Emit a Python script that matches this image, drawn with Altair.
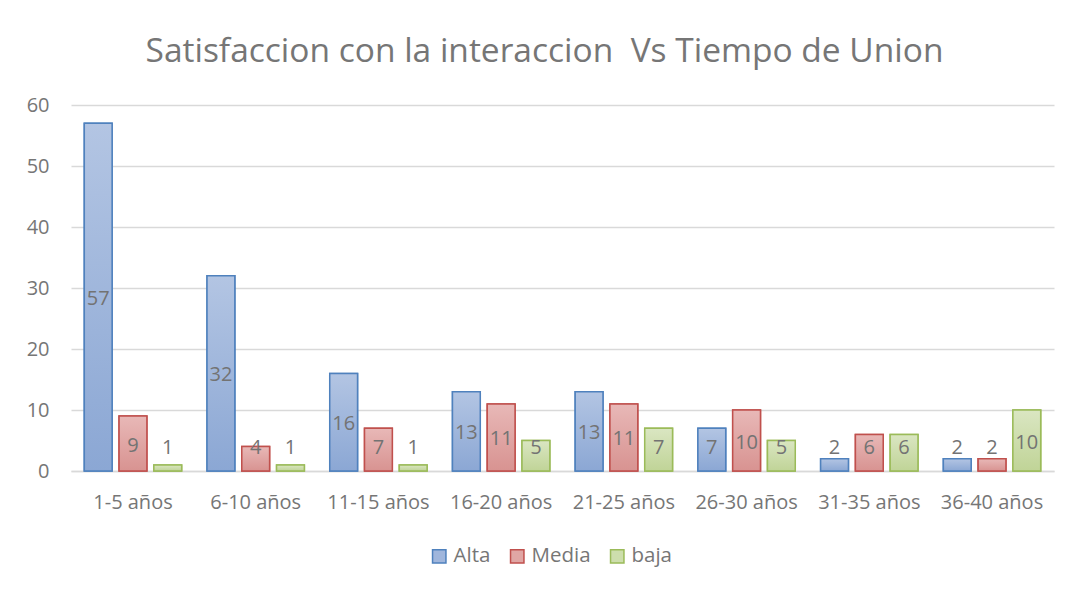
import altair as alt
import pandas as pd

categories = ["1-5 años", "6-10 años", "11-15 años", "16-20 años",
              "21-25 años", "26-30 años", "31-35 años", "36-40 años"]
series = ["Alta", "Media", "baja"]
alta = [57, 32, 16, 13, 13, 7, 2, 2]
media = [9, 4, 7, 11, 11, 10, 6, 2]
baja = [1, 1, 1, 5, 7, 5, 6, 10]
y_ticks = [0, 10, 20, 30, 40, 50, 60]

fill_top = ["#b3c5e3", "#e8b8b7", "#dae6c2"]
fill_bottom = ["#8ba7d4", "#d89391", "#c0d497"]
fill_mid = ["#a0b6dc", "#e0a6a4", "#cddeac"]
strokes = ["#4f81bd", "#c0504d", "#9bbb59"]

rows = []
for s, vals in zip(series, [alta, media, baja]):
    for c, v in zip(categories, vals):
        rows.append({"cat": c, "serie": s, "valor": v})
df = pd.DataFrame(rows)

FONT = "Open Sans"
TXT = "#767676"

x_enc = alt.X("cat:N", sort=categories,
              scale=alt.Scale(paddingInner=0.15, paddingOuter=0.08),
              axis=alt.Axis(title=None, labelAngle=0, ticks=False, labelPadding=21,
                            labelFontSize=20, labelFont=FONT, labelColor=TXT,
                            domainColor="#d9d9d9", domainWidth=1.5, grid=False))
xo_enc = alt.XOffset("serie:N", sort=series,
                     scale=alt.Scale(domain=series, paddingInner=0.2, paddingOuter=0.1))
y_enc = alt.Y("valor:Q", scale=alt.Scale(domain=[0, 60]),
              axis=alt.Axis(title=None, values=y_ticks, ticks=False, domain=False,
                            labelPadding=22, labelFontSize=20, labelFont=FONT,
                            labelColor=TXT, gridColor="#d9d9d9", gridWidth=1.5))

base = alt.Chart(df)

leg = alt.Legend(title=None, orient="none", legendX=358, legendY=441,
                 direction="horizontal",
                 symbolType="square", symbolSize=180, symbolStrokeWidth=1.5,
                 labelFontSize=20.5, labelFont=FONT, labelColor=TXT,
                 columnPadding=16, symbolOpacity=1)

legend_layer = base.mark_bar(strokeWidth=1.5, fillOpacity=1).encode(
    x=x_enc, xOffset=xo_enc, y=y_enc,
    fill=alt.Fill("serie:N", sort=series,
                  scale=alt.Scale(domain=series, range=fill_mid), legend=leg),
    stroke=alt.Stroke("serie:N", sort=series,
                      scale=alt.Scale(domain=series, range=strokes), legend=leg),
)

grad_layers = []
for s, t, b, st in zip(series, fill_top, fill_bottom, strokes):
    grad = alt.Gradient(gradient="linear",
                        stops=[alt.GradientStop(color=t, offset=0),
                               alt.GradientStop(color=b, offset=1)],
                        x1=0, x2=0, y1=0, y2=1)
    grad_layers.append(
        base.transform_filter(alt.datum.serie == s)
        .mark_bar(fill=grad, stroke=st, strokeWidth=1.5)
        .encode(x=x_enc, xOffset=xo_enc, y=y_enc)
    )

labels = base.transform_calculate(
    ly="max(datum.valor / 2, 4.1)"
).mark_text(fontSize=20, font=FONT, color="#737373", baseline="middle", dy=2).encode(
    x=x_enc, xOffset=xo_enc, y=alt.Y("ly:Q"), text="valor:Q"
)

chart = alt.layer(legend_layer, *grad_layers, labels).properties(
    width=983, height=366,
    title=alt.TitleParams("Satisfaccion con la interaccion \u00a0Vs Tiempo de Union",
                          fontSize=33.5, font=FONT, color=TXT, fontWeight="normal",
                          anchor="middle", offset=26, dx=-18),
    padding={"left": 18, "top": 26, "right": 10, "bottom": 5},
).configure_view(stroke=None)

chart.save("out.html", embed_options={"renderer": "svg", "actions": False})
